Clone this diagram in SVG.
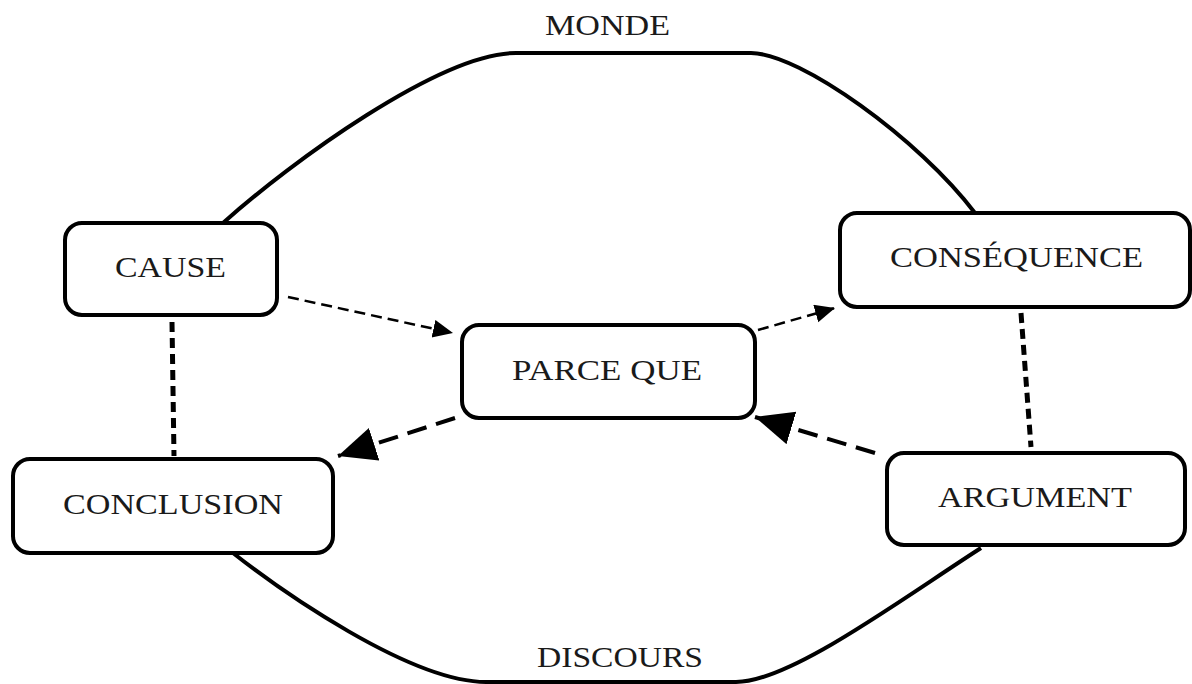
<svg xmlns="http://www.w3.org/2000/svg" width="1192" height="684" viewBox="0 0 1192 684">
<style>
.box{fill:#fff;stroke:#000;stroke-width:4}
.lbl{font-family:"Liberation Serif","Times New Roman",serif;font-size:30px;fill:#1a1a1a}
.curve{fill:none;stroke:#000;stroke-width:4}
.thin{fill:none;stroke:#000;stroke-width:2.5;stroke-dasharray:11 6}
.thick{fill:none;stroke:#000;stroke-width:4;stroke-dasharray:20 10}
.link{fill:none;stroke:#000;stroke-width:5;stroke-dasharray:10 6}
</style>
<defs>
<marker id="sm" markerUnits="userSpaceOnUse" markerWidth="22" markerHeight="20" refX="20" refY="9" orient="auto">
<path d="M0 0 L20 9 L0 18 Z" fill="#000"/>
</marker>
<marker id="lg" markerUnits="userSpaceOnUse" markerWidth="40" markerHeight="36" refX="38" refY="17" orient="auto">
<path d="M0 0 L38 17 L0 34 Z" fill="#000"/>
</marker>
</defs>
<rect width="1192" height="684" fill="#fff"/>
<g id="frame">
<path class="curve" d="M223 223 C290 163 440 53 516 53 L751 53 C800 53 920 140 975 213"/>
<path class="curve" d="M233 553 C280 590 410 682 486 682 L736 682 C790 682 900 600 981 548"/>
<text class="lbl" x="545" y="35" textLength="125" lengthAdjust="spacingAndGlyphs">MONDE</text>
<text class="lbl" x="537" y="667" textLength="166" lengthAdjust="spacingAndGlyphs">DISCOURS</text>
</g>
<g id="connectors">
<path class="thin" d="M288 297 L453 333" marker-end="url(#sm)"/>
<path class="thin" d="M758 330 L835 308" marker-end="url(#sm)"/>
<path class="thick" d="M455 418 L338 456" marker-end="url(#lg)"/>
<path class="thick" d="M875 453 L755 417" marker-end="url(#lg)"/>
<path class="link" d="M172 322 L174 456"/>
<path class="link" d="M1021 313 L1031 447"/>
</g>
<g id="cause">
<rect class="box" x="65" y="223" width="212" height="92" rx="17"/>
<text class="lbl" x="115" y="277" textLength="111" lengthAdjust="spacingAndGlyphs">CAUSE</text>
</g>
<g id="consequence">
<rect class="box" x="840" y="213" width="350" height="94" rx="17"/>
<text class="lbl" x="890" y="267" textLength="253" lengthAdjust="spacingAndGlyphs">CONSÉQUENCE</text>
</g>
<g id="parce-que">
<rect class="box" x="462" y="325" width="293" height="93" rx="17"/>
<text class="lbl" x="512" y="380" textLength="190" lengthAdjust="spacingAndGlyphs">PARCE QUE</text>
</g>
<g id="conclusion">
<rect class="box" x="13" y="459" width="320" height="94" rx="17"/>
<text class="lbl" x="63" y="514" textLength="220" lengthAdjust="spacingAndGlyphs">CONCLUSION</text>
</g>
<g id="argument">
<rect class="box" x="887" y="453" width="298" height="92" rx="17"/>
<text class="lbl" x="938" y="507" textLength="194" lengthAdjust="spacingAndGlyphs">ARGUMENT</text>
</g>
</svg>
